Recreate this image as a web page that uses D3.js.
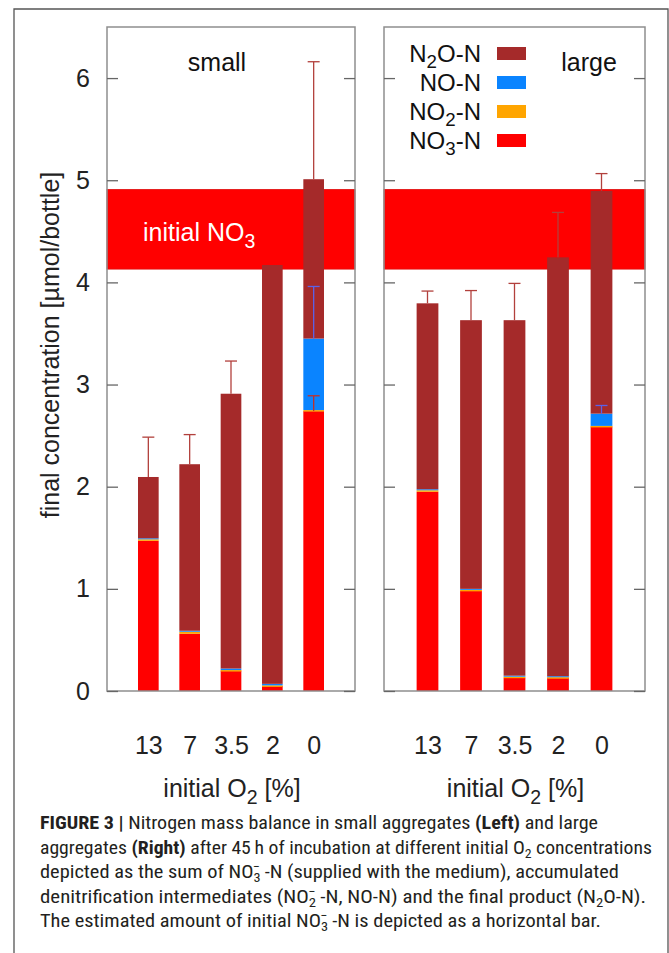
<!DOCTYPE html>
<html><head><meta charset="utf-8">
<script src="https://cdn.jsdelivr.net/npm/d3@7"></script>
<style>body{margin:0;background:#fff}</style>
</head><body>
<svg id="c" width="669" height="953"></svg>
<script>
// ---------- data ----------
const categories = ["13", "7", "3.5", "2", "0"];
const yTicks = [0, 1, 2, 3, 4, 5, 6];
const initialNO3Band = [4.13, 4.91];

const smallNO3 = [1.47, 0.56, 0.20, 0.05, 2.74];
const smallNO2 = [0.015, 0.02, 0.005, 0.005, 0.01];
const smallNO  = [0.01, 0.01, 0.015, 0.015, 0.70];
const smallN2O = [0.60, 1.63, 2.69, 4.10, 1.56];
const smallN2OErr = [0.39, 0.29, 0.32, 0.0, 1.15];
const smallNOErr  = [0.0, 0.0, 0.0, 0.0, 0.51];
const smallNO3Err = [0.0, 0.0, 0.0, 0.0, 0.15];

const largeNO3 = [1.95, 0.98, 0.13, 0.13, 2.59];
const largeNO2 = [0.015, 0.01, 0.01, 0.005, 0.005];
const largeNO  = [0.01, 0.01, 0.01, 0.01, 0.12];
const largeN2O = [1.82, 2.63, 3.48, 4.10, 2.18];
const largeN2OErr = [0.12, 0.29, 0.36, 0.44, 0.17];
const largeNOErr  = [0.0, 0.0, 0.0, 0.0, 0.08];
const largeNO3Err = [0.0, 0.0, 0.0, 0.0, 0.0];

const seriesKeys = ["NO3", "NO2", "NO", "N2O"];
const seriesColors = {NO3: "#ff0000", NO2: "#ffa500", NO: "#0a84ff", N2O: "#a52a2a"};
const legendKeys = ["N2O", "NO", "NO2", "NO3"];
const legendLabels = {N2O: ["N", "2", "O-N"], NO: ["NO-N", "", ""], NO2: ["NO", "2", "-N"], NO3: ["NO", "3", "-N"]};

// ---------- setup ----------
const svg = d3.select("#c");
const FONT = "'Liberation Sans', Arial, Helvetica, sans-serif";
const FS = 25;

svg.append("rect").attr("width", 669).attr("height", 953).attr("fill", "#fff");
// outer figure frame (open at bottom)
svg.append("path").attr("d", "M14,960 V9 H668 V960")
  .attr("fill", "none").attr("stroke", "#555").attr("stroke-width", 1.3);

const y = d3.scaleLinear().domain([0, 6.5]).range([691, 27]);

const panels = [
  {x0: 107, x1: 355, title: "small", tx: 217, NO3: smallNO3, NO2: smallNO2, NO: smallNO, N2O: smallN2O,
   errN2O: smallN2OErr, errNO: smallNOErr, errNO3: smallNO3Err, labels: true, legend: false, band: true},
  {x0: 384, x1: 645, title: "large", tx: 589, NO3: largeNO3, NO2: largeNO2, NO: largeNO, N2O: largeN2O,
   errN2O: largeN2OErr, errNO: largeNOErr, errNO3: largeNO3Err, labels: false, legend: true, band: false}
];

function addSubText(g, parts, size) {
  // parts: [main, sub, rest]
  g.append("tspan").text(parts[0]);
  if (parts[1]) {
    g.append("tspan").attr("dy", size * 0.28).attr("font-size", size * 0.78).text(parts[1]);
    if (parts[2]) g.append("tspan").attr("dy", -size * 0.28).text(parts[2]);
  } else if (parts[2]) {
    g.append("tspan").text(parts[2]);
  }
}

panels.forEach(p => {
  const g = svg.append("g");
  const x = d3.scaleLinear().domain([-1, 5]).range([p.x0, p.x1]);
  const bw = x(0.25) - x(-0.25);

  // initial NO3 band
  g.append("rect")
    .attr("x", p.x0).attr("width", p.x1 - p.x0)
    .attr("y", y(initialNO3Band[1])).attr("height", y(initialNO3Band[0]) - y(initialNO3Band[1]))
    .attr("fill", "#ff0000").attr("stroke", "#e01010").attr("stroke-width", 0.8);

  // stacked bars
  const rows = categories.map((c, i) => ({cat: c, i, NO3: p.NO3[i], NO2: p.NO2[i], NO: p.NO[i], N2O: p.N2O[i]}));
  const stacked = d3.stack().keys(seriesKeys)(rows);
  stacked.forEach(s => {
    g.append("g").selectAll("rect").data(s).join("rect")
      .attr("x", d => x(d.data.i) - bw / 2)
      .attr("width", bw)
      .attr("y", d => y(d[1]))
      .attr("height", d => Math.max(y(d[0]) - y(d[1]), s.key === "NO2" ? 1.5 : 0))
      .attr("fill", seriesColors[s.key]);
  });

  // error bars
  const capW = 6;
  const drawErr = (base, err, color) => {
    rows.forEach(r => {
      const e = err[r.i];
      if (!e) return;
      const b = base(r), cx = x(r.i);
      g.append("line").attr("x1", cx).attr("x2", cx).attr("y1", y(b)).attr("y2", y(b + e))
        .attr("stroke", color).attr("stroke-width", 1.3);
      g.append("line").attr("x1", cx - capW).attr("x2", cx + capW).attr("y1", y(b + e)).attr("y2", y(b + e))
        .attr("stroke", color).attr("stroke-width", 1.3);
    });
  };
  drawErr(r => r.NO3 + r.NO2 + r.NO + r.N2O, p.errN2O, "#b2403c");
  drawErr(r => r.NO3 + r.NO2 + r.NO, p.errNO, "#5b62e8");
  drawErr(r => r.NO3, p.errNO3, "#c0302a");

  // frame
  g.append("rect").attr("x", p.x0).attr("y", 27).attr("width", p.x1 - p.x0).attr("height", 691 - 27)
    .attr("fill", "none").attr("stroke", "#8e8e8e").attr("stroke-width", 1.5);

  // y axes (inward ticks on both sides)
  const axL = g.append("g").attr("transform", `translate(${p.x0},0)`)
    .call(d3.axisLeft(y).tickValues(yTicks).tickSizeInner(-11).tickSizeOuter(0).tickPadding(17)
      .tickFormat(d3.format("d")));
  if (!p.labels) axL.selectAll(".tick text").remove();
  const axR = g.append("g").attr("transform", `translate(${p.x1},0)`)
    .call(d3.axisRight(y).tickValues(yTicks).tickSizeInner(-11).tickSizeOuter(0));
  axR.selectAll(".tick text").remove();
  [axL, axR].forEach(a => {
    a.select(".domain").remove();
    a.selectAll(".tick line").attr("stroke", "#666").attr("stroke-width", 1.3);
    a.selectAll(".tick text").attr("font-family", FONT).attr("font-size", FS).attr("fill", "#222");
  });

  // x axis labels
  const axB = g.append("g").attr("transform", `translate(0,691)`)
    .call(d3.axisBottom(x).tickValues(d3.range(categories.length)).tickSize(0).tickPadding(45)
      .tickFormat(i => categories[i]));
  axB.select(".domain").remove();
  axB.selectAll(".tick text").attr("font-family", FONT).attr("font-size", FS).attr("fill", "#222");

  // x axis title
  const xt = g.append("text").attr("x", (p.x0 + p.x1) / 2 + 1).attr("y", 797)
    .attr("text-anchor", "middle").attr("font-family", FONT).attr("font-size", FS).attr("fill", "#222");
  addSubText(xt, ["initial O", "2", " [%]"], FS);

  // panel title
  g.append("text").attr("x", p.tx).attr("y", 71).attr("text-anchor", "middle")
    .attr("font-family", FONT).attr("font-size", FS).attr("fill", "#111").text(p.title);

  if (p.band) {
    const bt = g.append("text").attr("x", 143).attr("y", 241).attr("font-family", FONT)
      .attr("font-size", FS).attr("fill", "#fff");
    addSubText(bt, ["initial NO", "3", ""], FS);
  }

  if (p.legend) {
    legendKeys.forEach((k, j) => {
      const cy = 53.5 + j * 29;
      const t = g.append("text").attr("x", 481).attr("y", cy + 8).attr("text-anchor", "end")
        .attr("font-family", FONT).attr("font-size", FS - 1).attr("fill", "#111");
      addSubText(t, legendLabels[k], FS - 1);
      g.append("rect").attr("x", 497).attr("y", cy - 6.5).attr("width", 29).attr("height", 13)
        .attr("fill", seriesColors[k]);
    });
  }
});

// y axis title
svg.append("text").attr("transform", "translate(50,345) rotate(-90)")
  .attr("text-anchor", "middle").attr("dominant-baseline", "central")
  .attr("font-family", FONT).attr("font-size", FS).attr("fill", "#222")
  .text("final concentration [µmol/bottle]");

// ---------- caption ----------
const capLines = [
  {end: 598, segs: [{t: "FIGURE 3 | ", b: 1}, {t: "Nitrogen mass balance in small aggregates "}, {t: "(Left)", b: 1}, {t: " and large"}]},
  {end: 652, segs: [{t: "aggregates "}, {t: "(Right)", b: 1}, {t: " after 45\u2009h of incubation at different initial O"}, {sub: "2"}, {t: " concentrations"}]},
  {end: 619, segs: [{t: "depicted as the sum of NO"}, {sub: "3", sup: "\u2212"}, {t: " -N (supplied with the medium), accumulated"}]},
  {end: 646, segs: [{t: "denitrification intermediates (NO"}, {sub: "2", sup: "\u2212"}, {t: " -N, NO-N) and the final product (N"}, {sub: "2"}, {t: "O-N)."}]},
  {end: 601, segs: [{t: "The estimated amount of initial NO"}, {sub: "3", sup: "\u2212"}, {t: " -N is depicted as a horizontal bar."}]}
];
const CFS = 18.5;
capLines.forEach((ln, i) => {
  const t = svg.append("text").attr("x", 40).attr("y", 829 + i * 24.5)
    .attr("font-family", "'Liberation Sans Narrow', 'Roboto Condensed', Roboto, 'Liberation Sans', sans-serif")
    .attr("font-size", CFS).attr("fill", "#231f20")
    .attr("textLength", ln.end - 40).attr("lengthAdjust", "spacingAndGlyphs");
  let pendingDy = 0;
  ln.segs.forEach(s => {
    if (s.t !== undefined) {
      const ts = t.append("tspan").attr("font-weight", s.b ? "bold" : null).text(s.t);
      if (pendingDy) { ts.attr("dy", pendingDy); pendingDy = 0; }
    } else {
      t.append("tspan").attr("dy", 4).attr("font-size", 13).text(s.sub);
      if (s.sup) {
        t.append("tspan").attr("dx", -7).attr("dy", -11).attr("font-size", 13).text(s.sup);
        pendingDy = 7;
      } else {
        pendingDy = -4;
      }
    }
  });
});
</script>
</body></html>
